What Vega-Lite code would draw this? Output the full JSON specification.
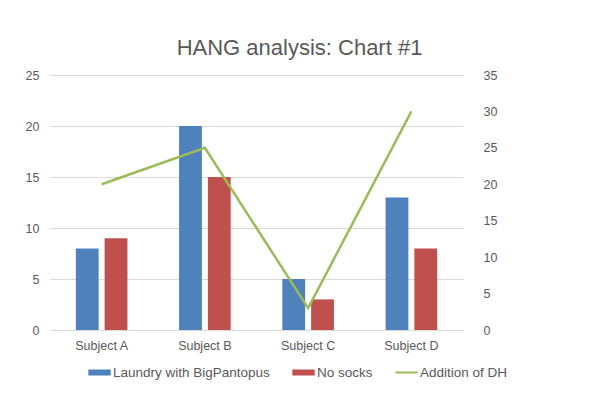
{
  "$schema": "https://vega.github.io/schema/vega-lite/v6.json",
  "width": 413,
  "height": 255,
  "autosize": "none",
  "padding": {"left": 50, "top": 75, "right": 137, "bottom": 86},
  "background": "white",
  "title": {
    "text": "HANG analysis: Chart #1",
    "font": "Liberation Sans",
    "fontSize": 22,
    "fontWeight": "normal",
    "color": "#595959",
    "anchor": "middle",
    "dx": 43,
    "offset": 9
  },
  "config": {
    "view": {"stroke": null},
    "axis": {
      "labelFont": "Liberation Sans",
      "labelFontSize": 12,
      "labelColor": "#595959",
      "ticks": false,
      "domain": false,
      "title": null
    },
    "legend": {
      "labelFont": "Liberation Sans",
      "labelFontSize": 13.5,
      "labelColor": "#595959"
    }
  },
  "data": {
    "values": [
      {"subject": "Subject A", "series": "Laundry with BigPantopus", "value": 8},
      {"subject": "Subject A", "series": "No socks", "value": 9},
      {"subject": "Subject A", "series": "Addition of DH", "value": 20},
      {"subject": "Subject B", "series": "Laundry with BigPantopus", "value": 20},
      {"subject": "Subject B", "series": "No socks", "value": 15},
      {"subject": "Subject B", "series": "Addition of DH", "value": 25},
      {"subject": "Subject C", "series": "Laundry with BigPantopus", "value": 5},
      {"subject": "Subject C", "series": "No socks", "value": 3},
      {"subject": "Subject C", "series": "Addition of DH", "value": 3},
      {"subject": "Subject D", "series": "Laundry with BigPantopus", "value": 13},
      {"subject": "Subject D", "series": "No socks", "value": 8},
      {"subject": "Subject D", "series": "Addition of DH", "value": 30}
    ]
  },
  "encoding": {
    "x": {
      "field": "subject",
      "type": "nominal",
      "scale": {"paddingInner": 0.5, "paddingOuter": 0.25},
      "axis": {
        "labelAngle": 0,
        "domain": true,
        "domainColor": "#D9D9D9",
        "labelPadding": 9,
        "labelFontSize": 12.5
      }
    }
  },
  "layer": [
    {
      "transform": [{"filter": "datum.series != 'Addition of DH'"}],
      "mark": {"type": "bar"},
      "encoding": {
        "xOffset": {
          "field": "series",
          "type": "nominal",
          "sort": ["Laundry with BigPantopus", "No socks"],
          "scale": {"paddingInner": 0.207, "paddingOuter": 0}
        },
        "y": {
          "field": "value",
          "type": "quantitative",
          "scale": {"domain": [0, 25], "nice": false},
          "axis": {
            "values": [0, 5, 10, 15, 20, 25],
            "grid": true,
            "gridColor": "#D9D9D9",
            "labelPadding": 11,
            "labelFontSize": 12.5
          }
        },
        "color": {
          "field": "series",
          "type": "nominal",
          "scale": {
            "domain": ["Laundry with BigPantopus", "No socks", "Addition of DH"],
            "range": ["#4F81BD", "#C0504D", "#9BBB59"]
          },
          "legend": {
            "title": null,
            "orient": "none",
            "direction": "horizontal",
            "legendX": 38,
            "legendY": 286,
            "symbolSize": 500,
            "symbolStrokeWidth": 0,
            "columnPadding": 22,
            "labelOffset": 2
          }
        }
      }
    },
    {
      "transform": [{"filter": "datum.series == 'Addition of DH'"}],
      "mark": {"type": "line", "color": "#9BBB59", "strokeWidth": 2.5},
      "encoding": {
        "y": {
          "field": "value",
          "type": "quantitative",
          "scale": {"domain": [0, 35], "nice": false},
          "axis": {
            "orient": "right",
            "values": [0, 5, 10, 15, 20, 25, 30, 35],
            "grid": false,
            "labelPadding": 20,
            "labelFontSize": 12.5
          }
        }
      }
    },
    {
      "transform": [{"filter": "false"}],
      "mark": {"type": "point", "filled": true, "opacity": 1},
      "encoding": {
        "y": {"field": "value", "type": "quantitative"},
        "color": {"field": "series", "type": "nominal"},
        "shape": {
          "field": "series",
          "type": "nominal",
          "scale": {
            "domain": ["Laundry with BigPantopus", "No socks", "Addition of DH"],
            "range": [
              "M-1,-0.27H1V0.27H-1Z",
              "M-1,-0.27H1V0.27H-1Z",
              "M-1,-0.09H1V0.09H-1Z"
            ]
          }
        }
      }
    }
  ],
  "resolve": {"scale": {"y": "independent"}}
}
